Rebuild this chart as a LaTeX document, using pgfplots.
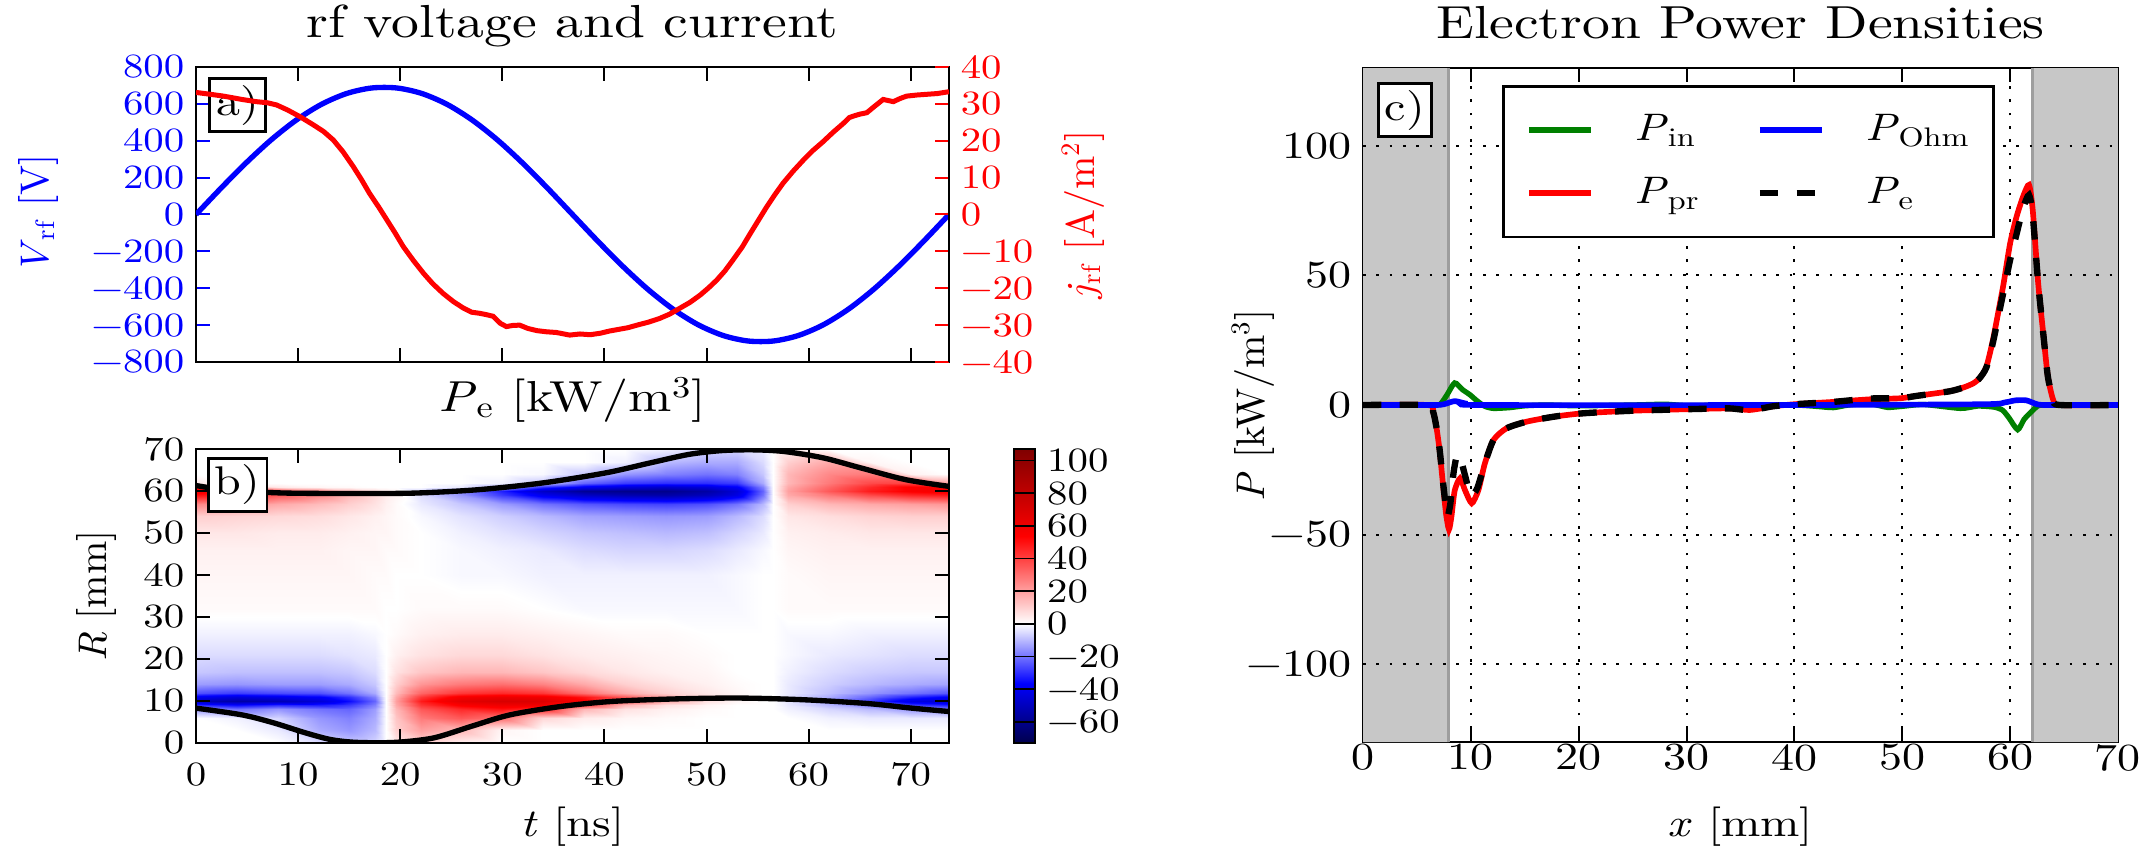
\documentclass[border=0pt]{standalone}
\usepackage{fontspec}
\setmainfont{lmroman10}[Extension=.otf, UprightFont=*-regular, ItalicFont=*-italic, BoldFont=*-bold, FakeStretch=1.2]
\newfontfamily\plainlm{lmroman10}[Extension=.otf, UprightFont=*-regular, ItalicFont=*-italic, BoldFont=*-bold]
\usepackage{pgfplots}
\pgfplotsset{compat=1.18}
\newcommand{\fab}{\fontsize{10.2}{12}\selectfont}
\newcommand{\fcc}{\fontsize{11.5}{13.5}\selectfont}
\newcommand{\ftt}{\fontsize{13.9}{16}\selectfont}
\newcommand{\fttb}{\fontsize{13}{15}\selectfont}
\newcommand{\fxl}{\fontsize{11.8}{14}\selectfont}
\newcommand{\fyl}{\plainlm\fontsize{12}{14}\selectfont}
\newcommand{\flab}{\fontsize{12}{14}\selectfont}
\definecolor{mgreen}{rgb}{0,0.5,0}
\definecolor{shadegray}{gray}{0.78}
\definecolor{edgegray}{gray}{0.62}
\pgfplotsset{colormap={seis}{rgb(0pt)=(0,0,0.3); rgb(36.5pt)=(0,0,1); rgb(73pt)=(1,1,1); rgb(126.5pt)=(1,0,0); rgb(180pt)=(0.5,0,0)}}
\pgfplotsset{gridline/.style={black, line width=0.6pt, dash pattern=on 0.8pt off 3.2pt, forget plot}}
\begin{document}
\begin{tikzpicture}
\useasboundingbox (0,0) rectangle (645.6pt,255pt);
% ---------------- panel a (voltage) ----------------
\begin{axis}[
  at={(58.8pt,146.4pt)}, anchor=south west, scale only axis,
  width=225.9pt, height=88.5pt,
  xmin=0, xmax=73.75, ymin=-800, ymax=800,
  axis line style={line width=0.8pt},
  xtick={0,10,...,70}, xticklabels=\empty,
  ytick={-800,-600,...,800},
  yticklabels={−800,−600,−400,−200,0,200,400,600,800},
  ytick pos=left,
  tick align=inside,
  ytick style={blue, line width=0.6pt},
  xtick style={black, line width=0.6pt},
  yticklabel style={blue, font=\fab},
  ylabel={\textit{V}\textsubscript{rf} [V]},
  ylabel style={blue, font=\fyl, at={(axis description cs:-0.2098,0.5)}, anchor=center},
  title={rf voltage and current},
  title style={font=\ftt, at={(0.5,1)}, anchor=base, yshift=2.7pt},
]
\addplot[blue, line width=1.6pt, smooth] table {
t V
0 0
2.458 143.5
4.917 280.6
7.375 405.6
9.833 512.7
12.292 597.6
14.75 656.2
17.208 686.2
19.667 686.2
22.125 656.2
24.583 597.6
27.042 512.7
29.5 405.6
31.958 280.6
34.417 143.5
36.875 0
39.333 -143.5
41.792 -280.6
44.25 -405.6
46.708 -512.7
49.167 -597.6
51.625 -656.2
54.083 -686.2
56.542 -686.2
59.0 -656.2
61.458 -597.6
63.917 -512.7
66.375 -405.6
68.833 -280.6
71.292 -143.5
73.75 0
};
\node[draw, fill=white, line width=0.8pt, inner sep=2pt, anchor=north west, font=\flab] at (rel axis cs:0.016,0.966) {a)};
\end{axis}
% ---------------- panel a (current, right axis) ----------------
\begin{axis}[
  at={(58.8pt,146.4pt)}, anchor=south west, scale only axis,
  width=225.9pt, height=88.5pt,
  xmin=0, xmax=73.75, ymin=-40, ymax=40,
  axis x line=none, axis y line*=right,
  axis line style={line width=0.8pt, black},
  ytick={-40,-30,...,40},
  yticklabels={−40,−30,−20,−10,0,10,20,30,40},
  tick align=inside,
  ytick style={red, line width=0.6pt},
  yticklabel style={red, font=\fab},
  ylabel={\textit{j}\textsubscript{rf} [A/m\textsuperscript{2}]},
  ylabel style={red, font=\fyl, at={(axis description cs:1.178,0.5)}, anchor=center},
]
\addplot[red, line width=1.5pt] table {
t j
0 33.1
1.4 32.6
2.7 32.1
4.5 31.2
5.9 30.6
7.0 30.3
7.9 29.7
9.0 28.3
10.2 26.5
11.5 24.3
12.5 22.5
13.45 20.2
14.4 17
15.4 13
16.2 9.5
17.0 5.7
17.9 2
18.7 -1.5
19.5 -5
20.3 -8.7
21.3 -12.5
22.3 -16
23.2 -18.8
24.2 -21.4
25.2 -23.6
26.2 -25.4
27.0 -26.5
27.8 -26.8
28.5 -27.2
29.1 -27.6
29.8 -29.5
30.4 -30.4
31.0 -30.1
31.7 -30
32.5 -30.9
33.4 -31.5
34.3 -31.8
35.3 -32
36.6 -32.7
37.6 -32.4
38.6 -32.6
39.6 -32.2
40.5 -31.6
41.5 -31.1
42.3 -30.7
43.2 -30
44.3 -29.2
45.4 -28.2
46.4 -27
47.4 -25.4
48.4 -23.8
49.4 -21.8
50.2 -19.9
51.0 -17.8
51.8 -15.3
52.6 -12.3
53.5 -8.8
54.3 -5.1
55.1 -1.5
55.9 2.1
56.7 5.4
57.5 8.5
58.5 11.8
59.5 14.8
60.4 17.3
61.4 19.7
62.4 22.3
63.4 24.7
64.0 26.3
64.4 26.7
65.0 27.2
65.7 27.6
66.4 29.2
67.3 31.2
68.3 30.6
69.0 31.5
69.6 32.1
70.6 32.4
71.6 32.6
72.6 32.8
73.75 33.3
};
\end{axis}
% ---------------- panel b (map) ----------------
\begin{axis}[
  at={(58.8pt,32.1pt)}, anchor=south west, scale only axis,
  width=225.9pt, height=88.2pt,
  xmin=0, xmax=73.75, ymin=0, ymax=70,
  axis on top,
  axis line style={line width=0.8pt},
  tick align=inside, major tick style={line width=0.6pt, black},
  xtick={0,10,...,70}, ytick={0,10,...,70},
  xticklabels={0,10,20,30,40,50,60,70},
  yticklabels={0,10,20,30,40,50,60,70},
  ticklabel style={font=\fab},
  xticklabel style={yshift=-2.3pt},
  xlabel={\textit{t} [ns]},
  xlabel style={font=\fxl, at={(axis description cs:0.5,-0.286)}, anchor=center},
  ylabel={\textit{R} [mm]},
  ylabel style={font=\fyl, at={(axis description cs:-0.1328,0.5)}, anchor=center},
  title={\textit{P}\textsubscript{e} [kW/m\textsuperscript{3}]},
  title style={font=\fttb, at={(0.5,1)}, anchor=base, yshift=5.2pt},
  colormap name=seis,
  point meta min=-73, point meta max=107,
  colorbar,
  colorbar style={at={(parent axis.north east)}, anchor=north west, xshift=11.1pt,
    width=6.3pt, scale only axis,
    ytick={-60,-40,...,100}, yticklabels={−60,−40,−20,0,20,40,60,80,100},
    yticklabel style={font=\fab}, axis line style={line width=0.6pt},
    major tick style={line width=0.5pt, black}},
]
\addplot[surf, shader=interp, mesh/cols=24, point meta=explicit] table[row sep=\\, x=t, y=R, meta=c] {
t R c\\
0 0 0\\ 4 0 0\\ 8 0 0\\ 12 0 -5\\ 15 0 -8\\ 17.5 0 -6\\ 18.6 0 0\\ 19.6 0 5\\ 22 0 10\\ 26 0 3\\ 30 0 0\\ 34 0 0\\ 38 0 0\\ 42 0 0\\ 46 0 0\\ 50 0 0\\ 53 0 0\\ 55.5 0 0\\ 56.5 0 0\\ 58 0 0\\ 62 0 0\\ 66 0 0\\ 70 0 0\\ 73.75 0 0\\
0 3 0\\ 4 3 0\\ 8 3 -3\\ 12 3 -12\\ 15 3 -15\\ 17.5 3 -10\\ 18.6 3 0\\ 19.6 3 10\\ 22 3 20\\ 26 3 15\\ 30 3 2\\ 34 3 0\\ 38 3 0\\ 42 3 0\\ 46 3 0\\ 50 3 0\\ 53 3 0\\ 55.5 3 0\\ 56.5 3 0\\ 58 3 0\\ 62 3 0\\ 66 3 0\\ 70 3 0\\ 73.75 3 0\\
0 6 0\\ 4 6 -2\\ 8 6 -6\\ 12 6 -15\\ 15 6 -18\\ 17.5 6 -12\\ 18.6 6 0\\ 19.6 6 12\\ 22 6 28\\ 26 6 35\\ 30 6 30\\ 34 6 8\\ 38 6 4\\ 42 6 2\\ 46 6 1\\ 50 6 0\\ 53 6 0\\ 55.5 6 0\\ 56.5 6 0\\ 58 6 0\\ 62 6 -2\\ 66 6 -3\\ 70 6 -3\\ 73.75 6 -3\\
0 8 -15\\ 4 8 -20\\ 8 8 -15\\ 12 8 -20\\ 15 8 -22\\ 17.5 8 -14\\ 18.6 8 0\\ 19.6 8 15\\ 22 8 35\\ 26 8 45\\ 30 8 50\\ 34 8 45\\ 38 8 15\\ 42 8 6\\ 46 8 3\\ 50 8 1\\ 53 8 0\\ 55.5 8 0\\ 56.5 8 0\\ 58 8 -2\\ 62 8 -6\\ 66 8 -10\\ 70 8 -15\\ 73.75 8 -18\\
0 9 -30\\ 4 9 -35\\ 8 9 -30\\ 12 9 -32\\ 15 9 -28\\ 17.5 9 -18\\ 18.6 9 0\\ 19.6 9 18\\ 22 9 42\\ 26 9 55\\ 30 9 60\\ 34 9 60\\ 38 9 40\\ 42 9 15\\ 46 9 6\\ 50 9 2\\ 53 9 0\\ 55.5 9 0\\ 56.5 9 0\\ 58 9 -3\\ 62 9 -10\\ 66 9 -18\\ 70 9 -28\\ 73.75 9 -32\\
0 10 -50\\ 4 10 -55\\ 8 10 -52\\ 12 10 -45\\ 15 10 -35\\ 17.5 10 -22\\ 18.6 10 0\\ 19.6 10 20\\ 22 10 48\\ 26 10 65\\ 30 10 70\\ 34 10 68\\ 38 10 55\\ 42 10 35\\ 46 10 18\\ 50 10 6\\ 53 10 2\\ 55.5 10 0\\ 56.5 10 0\\ 58 10 -4\\ 62 10 -15\\ 66 10 -28\\ 70 10 -42\\ 73.75 10 -48\\
0 11 -40\\ 4 11 -45\\ 8 11 -42\\ 12 11 -38\\ 15 11 -30\\ 17.5 11 -18\\ 18.6 11 0\\ 19.6 11 18\\ 22 11 42\\ 26 11 58\\ 30 11 62\\ 34 11 60\\ 38 11 50\\ 42 11 35\\ 46 11 20\\ 50 11 8\\ 53 11 3\\ 55.5 11 0\\ 56.5 11 0\\ 58 11 -4\\ 62 11 -12\\ 66 11 -22\\ 70 11 -32\\ 73.75 11 -38\\
0 12 -25\\ 4 12 -28\\ 8 12 -26\\ 12 12 -25\\ 15 12 -20\\ 17.5 12 -12\\ 18.6 12 0\\ 19.6 12 14\\ 22 12 32\\ 26 12 42\\ 30 12 45\\ 34 12 42\\ 38 12 30\\ 42 12 18\\ 46 12 10\\ 50 12 5\\ 53 12 2\\ 55.5 12 0\\ 56.5 12 0\\ 58 12 -3\\ 62 12 -9\\ 66 12 -15\\ 70 12 -20\\ 73.75 12 -24\\
0 14 -14\\ 4 14 -15\\ 8 14 -14\\ 12 14 -14\\ 15 14 -12\\ 17.5 14 -8\\ 18.6 14 0\\ 19.6 14 10\\ 22 14 22\\ 26 14 28\\ 30 14 30\\ 34 14 26\\ 38 14 18\\ 42 14 10\\ 46 14 6\\ 50 14 3\\ 53 14 1\\ 55.5 14 0\\ 56.5 14 0\\ 58 14 -3\\ 62 14 -7\\ 66 14 -10\\ 70 14 -12\\ 73.75 14 -13\\
0 17 -8\\ 4 17 -9\\ 8 17 -9\\ 12 17 -9\\ 15 17 -8\\ 17.5 17 -5\\ 18.6 17 0\\ 19.6 17 6\\ 22 17 12\\ 26 17 15\\ 30 17 15\\ 34 17 12\\ 38 17 8\\ 42 17 5\\ 46 17 3\\ 50 17 2\\ 53 17 0\\ 55.5 17 0\\ 56.5 17 0\\ 58 17 -2\\ 62 17 -5\\ 66 17 -7\\ 70 17 -8\\ 73.75 17 -8\\
0 21 -5\\ 4 21 -5\\ 8 21 -5\\ 12 21 -5\\ 15 21 -4\\ 17.5 21 -3\\ 18.6 21 0\\ 19.6 21 3\\ 22 21 6\\ 26 21 8\\ 30 21 8\\ 34 21 6\\ 38 21 4\\ 42 21 3\\ 46 21 2\\ 50 21 1\\ 53 21 0\\ 55.5 21 0\\ 56.5 21 0\\ 58 21 -1\\ 62 21 -3\\ 66 21 -4\\ 70 21 -5\\ 73.75 21 -5\\
0 26 -2\\ 4 26 -2\\ 8 26 -2\\ 12 26 -2\\ 15 26 -2\\ 17.5 26 -1\\ 18.6 26 0\\ 19.6 26 1\\ 22 26 3\\ 26 26 4\\ 30 26 4\\ 34 26 3\\ 38 26 2\\ 42 26 1\\ 46 26 1\\ 50 26 0\\ 53 26 0\\ 55.5 26 0\\ 56.5 26 0\\ 58 26 -1\\ 62 26 -1\\ 66 26 -2\\ 70 26 -2\\ 73.75 26 -2\\
0 32 1\\ 4 32 1\\ 8 32 1\\ 12 32 1\\ 15 32 1\\ 17.5 32 1\\ 18.6 32 0\\ 19.6 32 0\\ 22 32 1\\ 26 32 1\\ 30 32 1\\ 34 32 0\\ 38 32 -1\\ 42 32 -1\\ 46 32 -1\\ 50 32 -1\\ 53 32 -1\\ 55.5 32 0\\ 56.5 32 0\\ 58 32 1\\ 62 32 1\\ 66 32 1\\ 70 32 1\\ 73.75 32 1\\
0 40 2\\ 4 40 2\\ 8 40 2\\ 12 40 2\\ 15 40 2\\ 17.5 40 1\\ 18.6 40 1\\ 19.6 40 0\\ 22 40 0\\ 26 40 -1\\ 30 40 -1\\ 34 40 -2\\ 38 40 -2\\ 42 40 -2\\ 46 40 -2\\ 50 40 -2\\ 53 40 -1\\ 55.5 40 0\\ 56.5 40 0\\ 58 40 1\\ 62 40 2\\ 66 40 2\\ 70 40 2\\ 73.75 40 2\\
0 46 3\\ 4 46 3\\ 8 46 3\\ 12 46 3\\ 15 46 2\\ 17.5 46 2\\ 18.6 46 1\\ 19.6 46 1\\ 22 46 0\\ 26 46 -1\\ 30 46 -2\\ 34 46 -3\\ 38 46 -5\\ 42 46 -6\\ 46 46 -6\\ 50 46 -5\\ 53 46 -3\\ 55.5 46 -1\\ 56.5 46 0\\ 58 46 2\\ 62 46 3\\ 66 46 3\\ 70 46 3\\ 73.75 46 3\\
0 50 5\\ 4 50 5\\ 8 50 4\\ 12 50 4\\ 15 50 3\\ 17.5 50 2\\ 18.6 50 2\\ 19.6 50 1\\ 22 50 0\\ 26 50 -2\\ 30 50 -4\\ 34 50 -6\\ 38 50 -8\\ 42 50 -9\\ 46 50 -10\\ 50 50 -9\\ 53 50 -6\\ 55.5 50 -3\\ 56.5 50 0\\ 58 50 3\\ 62 50 4\\ 66 50 5\\ 70 50 5\\ 73.75 50 5\\
0 54 10\\ 4 54 9\\ 8 54 8\\ 12 54 7\\ 15 54 5\\ 17.5 54 3\\ 18.6 54 2\\ 19.6 54 1\\ 22 54 -1\\ 26 54 -4\\ 30 54 -7\\ 34 54 -10\\ 38 54 -13\\ 42 54 -14\\ 46 54 -15\\ 50 54 -14\\ 53 54 -10\\ 55.5 54 -5\\ 56.5 54 0\\ 58 54 5\\ 62 54 7\\ 66 54 9\\ 70 54 10\\ 73.75 54 10\\
0 57 25\\ 4 57 22\\ 8 57 18\\ 12 57 14\\ 15 57 10\\ 17.5 57 6\\ 18.6 57 3\\ 19.6 57 1\\ 22 57 -3\\ 26 57 -8\\ 30 57 -14\\ 34 57 -20\\ 38 57 -24\\ 42 57 -26\\ 46 57 -27\\ 50 57 -25\\ 53 57 -20\\ 55.5 57 -10\\ 56.5 57 0\\ 58 57 10\\ 62 57 15\\ 66 57 18\\ 70 57 20\\ 73.75 57 22\\
0 59 50\\ 4 59 45\\ 8 59 35\\ 12 59 25\\ 15 59 15\\ 17.5 59 8\\ 18.6 59 4\\ 19.6 59 2\\ 22 59 -5\\ 26 59 -15\\ 30 59 -28\\ 34 59 -40\\ 38 59 -48\\ 42 59 -52\\ 46 59 -54\\ 50 59 -50\\ 53 59 -42\\ 55.5 59 -20\\ 56.5 59 0\\ 58 59 18\\ 62 59 28\\ 66 59 38\\ 70 59 45\\ 73.75 59 48\\
0 60 60\\ 4 60 55\\ 8 60 40\\ 12 60 28\\ 15 60 16\\ 17.5 60 8\\ 18.6 60 4\\ 19.6 60 2\\ 22 60 -6\\ 26 60 -18\\ 30 60 -32\\ 34 60 -48\\ 38 60 -58\\ 42 60 -60\\ 46 60 -60\\ 50 60 -55\\ 53 60 -45\\ 55.5 60 -22\\ 56.5 60 0\\ 58 60 20\\ 62 60 35\\ 66 60 48\\ 70 60 55\\ 73.75 60 58\\
0 61 55\\ 4 61 20\\ 8 61 5\\ 12 61 2\\ 15 61 1\\ 17.5 61 0\\ 18.6 61 0\\ 19.6 61 0\\ 22 61 0\\ 26 61 -3\\ 30 61 -12\\ 34 61 -30\\ 38 61 -40\\ 42 61 -45\\ 46 61 -48\\ 50 61 -45\\ 53 61 -38\\ 55.5 61 -18\\ 56.5 61 0\\ 58 61 18\\ 62 61 32\\ 66 61 45\\ 70 61 55\\ 73.75 61 55\\
0 62 5\\ 4 62 0\\ 8 62 0\\ 12 62 0\\ 15 62 0\\ 17.5 62 0\\ 18.6 62 0\\ 19.6 62 0\\ 22 62 0\\ 26 62 0\\ 30 62 -2\\ 34 62 -8\\ 38 62 -22\\ 42 62 -28\\ 46 62 -30\\ 50 62 -30\\ 53 62 -28\\ 55.5 62 -12\\ 56.5 62 0\\ 58 62 15\\ 62 62 28\\ 66 62 38\\ 70 62 40\\ 73.75 62 20\\
0 64 0\\ 4 64 0\\ 8 64 0\\ 12 64 0\\ 15 64 0\\ 17.5 64 0\\ 18.6 64 0\\ 19.6 64 0\\ 22 64 0\\ 26 64 0\\ 30 64 0\\ 34 64 -1\\ 38 64 -8\\ 42 64 -15\\ 46 64 -18\\ 50 64 -20\\ 53 64 -18\\ 55.5 64 -8\\ 56.5 64 0\\ 58 64 15\\ 62 64 25\\ 66 64 28\\ 70 64 3\\ 73.75 64 0\\
0 67 0\\ 4 67 0\\ 8 67 0\\ 12 67 0\\ 15 67 0\\ 17.5 67 0\\ 18.6 67 0\\ 19.6 67 0\\ 22 67 0\\ 26 67 0\\ 30 67 0\\ 34 67 0\\ 38 67 0\\ 42 67 -2\\ 46 67 -10\\ 50 67 -12\\ 53 67 -12\\ 55.5 67 -5\\ 56.5 67 0\\ 58 67 10\\ 62 67 18\\ 66 67 2\\ 70 67 0\\ 73.75 67 0\\
0 70 0\\ 4 70 0\\ 8 70 0\\ 12 70 0\\ 15 70 0\\ 17.5 70 0\\ 18.6 70 0\\ 19.6 70 0\\ 22 70 0\\ 26 70 0\\ 30 70 0\\ 34 70 0\\ 38 70 0\\ 42 70 0\\ 46 70 -2\\ 50 70 -6\\ 53 70 -6\\ 55.5 70 -3\\ 56.5 70 0\\ 58 70 3\\ 62 70 0\\ 66 70 0\\ 70 70 0\\ 73.75 70 0\\
};
\addplot[black, line width=1.6pt, smooth] coordinates {(0,61.3)(2.6,60.3)(5,59.9)(8.9,59.5)(15.1,59.4)(21.4,59.5)(27.6,60.3)(33.9,61.9)(40.1,64.3)(44.5,66.7)(48.25,68.7)(51.4,69.6)(54.5,69.8)(57.6,69.4)(61.4,67.9)(65.1,65.5)(69.5,62.7)(73.75,61.1)};
\addplot[black, line width=1.6pt, smooth] coordinates {(0,8.3)(4.5,6.7)(7.6,4.8)(10.75,2.4)(13.25,0.8)(15.75,0.15)(19.5,0.15)(23.25,1.2)(27,4.0)(30.75,6.7)(35.75,8.7)(40.75,9.9)(47,10.5)(53.25,10.7)(59.5,10.3)(65.75,9.4)(70.1,8.3)(73.75,7.5)};
\node[draw, fill=white, line width=0.8pt, inner sep=2pt, anchor=north west, font=\flab] at (rel axis cs:0.0146,0.973) {b)};
\end{axis}
% ---------------- panel c ----------------
\begin{axis}[
  at={(408.9pt,32.4pt)}, anchor=south west, scale only axis,
  width=226.5pt, height=202.2pt,
  xmin=0, xmax=70, ymin=-130, ymax=130,
  axis line style={line width=0.8pt},
  tick align=inside, major tick style={line width=0.6pt, black},
  xtick={0,10,...,70}, xticklabels={0,10,20,30,40,50,60,70},
  ytick={-100,-50,0,50,100}, yticklabels={−100,−50,0,50,100},
  ticklabel style={font=\fcc},
  xticklabel style={yshift=2.8pt},
  xlabel={\textit{x} [mm]},
  xlabel style={font=\fxl, at={(axis description cs:0.5,-0.126)}, anchor=center},
  ylabel={\textit{P} [kW/m\textsuperscript{3}]},
  ylabel style={font=\fyl, at={(axis description cs:-0.1457,0.5)}, anchor=center},
  title={Electron Power Densities},
  title style={font=\ftt, at={(0.5,1)}, anchor=base, yshift=3pt},
  legend columns=2, transpose legend, legend cell align=left,
  legend image code/.code={\draw[#1] (0pt,0pt) -- (18.6pt,0pt);},
  legend style={at={(0.184,0.975)}, anchor=north west, draw=black, line width=0.8pt, fill=white,
    font=\fcc, inner xsep=7pt, inner ysep=8.5pt, row sep=9.5pt, nodes={inner sep=0pt},
    /tikz/every odd column/.append style={column sep=12pt},
    /tikz/every even column/.append style={column sep=17pt}},
]
\addplot[draw=none, fill=shadegray, forget plot] coordinates {(0,-130) (7.95,-130) (7.95,130) (0,130) (0,-130)};
\addplot[draw=none, fill=shadegray, forget plot] coordinates {(62.05,-130) (70,-130) (70,130) (62.05,130) (62.05,-130)};
\addplot[draw=edgegray, line width=1pt, forget plot] coordinates {(7.95,-130) (7.95,130)};
\addplot[draw=edgegray, line width=1pt, forget plot] coordinates {(62.05,-130) (62.05,130)};
\addplot[gridline] coordinates {(10,-130) (10,130)};
\addplot[gridline] coordinates {(20,-130) (20,130)};
\addplot[gridline] coordinates {(30,-130) (30,130)};
\addplot[gridline] coordinates {(40,-130) (40,130)};
\addplot[gridline] coordinates {(50,-130) (50,130)};
\addplot[gridline] coordinates {(60,-130) (60,130)};
\addplot[gridline] coordinates {(0,-100) (70,-100)};
\addplot[gridline] coordinates {(0,-50) (70,-50)};
\addplot[gridline] coordinates {(0,50) (70,50)};
\addplot[gridline] coordinates {(0,100) (70,100)};
\addplot[mgreen, line width=1.6pt, smooth, tension=0.4] coordinates {(0,0) (6.5,0) (7.2,0.5) (7.8,4) (8.5,8.5) (9.2,6) (9.9,4) (10.6,1.5) (11.3,-0.5) (12.1,-1.3) (13.6,-1) (15,-0.3) (17,0) (20,-0.3) (25,0) (28,0.3) (30,-0.2) (35,0) (40,0) (42,-0.5) (43.6,-1) (45,0) (47,0.5) (48.6,-0.9) (50,-0.5) (52,0.2) (55.4,-1.3) (57,-0.4) (58.5,-0.8) (59.3,-2) (59.9,-5) (60.7,-9.5) (61.3,-5.5) (62.0,-2.5) (62.6,-0.3) (63.5,0) (70,0)};
\addplot[red, line width=1.7pt, smooth, tension=0.4] coordinates {(0,0) (6.0,0) (6.5,-2.6) (6.8,-8.4) (7.1,-17.4) (7.4,-30) (7.7,-42) (7.97,-48) (8.2,-43) (8.5,-33) (9.0,-28.3) (9.45,-32.8) (10.08,-37.9) (10.7,-32.8) (11.3,-22.5) (12.1,-13.5) (13.3,-9) (15.2,-6.4) (17.7,-4.5) (20.4,-3.2) (25,-2.2) (31.2,-1.5) (34,-1.3) (35.9,-1.9) (38,-0.5) (40,0.3) (43.6,1.2) (47,2.2) (49.8,2.6) (51.3,3.5) (54.4,5.3) (55.7,6.8) (56.6,8.4) (57.2,10.5) (57.8,14.8) (58.4,25) (59.0,38) (59.4,47) (60.0,62.4) (60.6,72.7) (61.2,80.4) (61.75,84.9) (62.1,75) (62.6,47) (63.1,26.4) (63.5,10.9) (64.0,1.9) (64.6,0) (70,0)};
\addplot[blue, line width=1.7pt, smooth, tension=0.4] coordinates {(0,0) (6.5,0) (7.5,0.3) (8.5,1.5) (9.5,0.6) (11,0) (40,0) (57.5,0.3) (59.5,1) (60.5,1.8) (61.5,1.8) (62.5,0.3) (63.5,0) (70,0)};
\addplot[black, line width=1.9pt, dash pattern=on 5.5pt off 5.5pt, smooth, tension=0.4] coordinates {(0,0) (6.0,0) (6.5,-2.6) (6.8,-8.4) (7.1,-17) (7.4,-29) (7.7,-40) (7.85,-43) (8.1,-38) (8.4,-26) (8.7,-19.5) (9.0,-20) (9.45,-27) (10.0,-35) (10.6,-32) (11.3,-22.5) (12.1,-13.5) (13.3,-9) (15.2,-6.4) (17.7,-4.5) (20.4,-3.2) (25,-2.2) (31.2,-1.5) (34,-1.3) (35.9,-2.0) (38,-0.5) (40,0.3) (43.6,1.2) (47,2.5) (49.8,2.6) (51.3,3.5) (54.4,5.3) (55.7,6.8) (56.6,8.4) (57.2,10.5) (57.8,14.5) (58.4,24) (59.0,36) (59.4,44) (60.0,56) (60.6,66) (61.2,76) (61.75,81) (62.1,73) (62.6,47) (63.1,26.4) (63.5,10.9) (64.0,1.9) (64.6,0) (70,0)};
\legend{\textit{P}\textsubscript{in}, \textit{P}\textsubscript{pr}, \textit{P}\textsubscript{Ohm}, \textit{P}\textsubscript{e}}
\node[draw, fill=white, line width=0.8pt, inner sep=2pt, anchor=north west, font=\flab] at (rel axis cs:0.0185,0.979) {c)};
\end{axis}
\end{tikzpicture}
\end{document}
